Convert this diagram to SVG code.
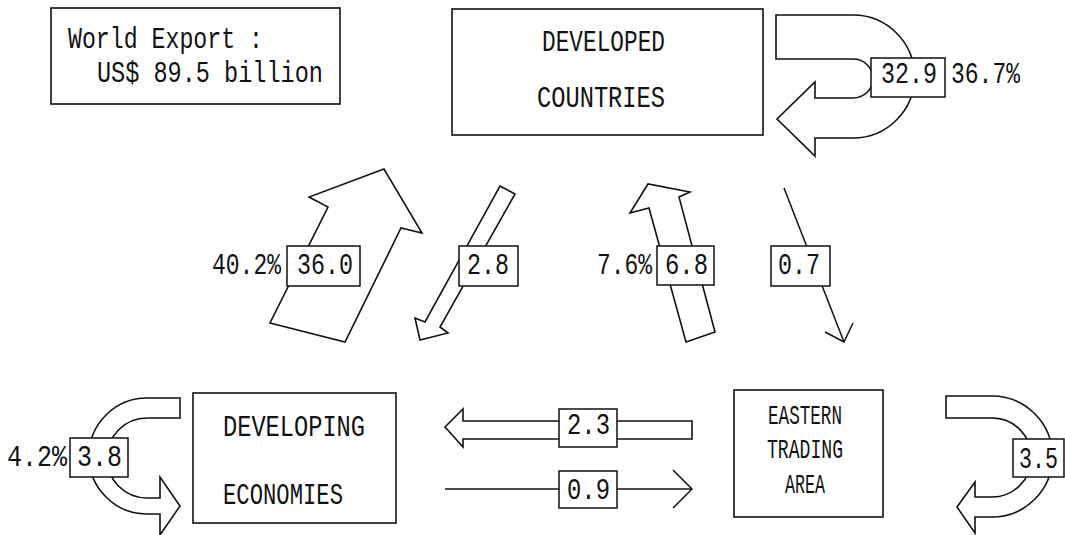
<svg xmlns="http://www.w3.org/2000/svg" width="1065" height="535" viewBox="0 0 1065 535">
  <style>
    .box { fill: #fff; stroke: #111; stroke-width: 1.6; }
    .flow { fill: #fff; stroke: #111; stroke-width: 1.6; stroke-linejoin: miter; }
    .line { fill: none; stroke: #111; stroke-width: 1.5; }
    .tag { fill: #fff; stroke: #111; stroke-width: 1.5; }
    text { font-family: "Liberation Mono", "DejaVu Sans Mono", monospace; font-size: 29px; fill: #111; }
    .small { font-size: 28px; }
    .edge { font-size: 25px; }
  </style>
  <rect width="1065" height="535" fill="#fff"/>

  <!-- total world export -->
  <g id="world-export">
    <rect class="box" x="51" y="8" width="289" height="96"/>
    <text x="68" y="48" textLength="195" lengthAdjust="spacingAndGlyphs">World Export :</text>
    <text x="97" y="82" textLength="226" lengthAdjust="spacingAndGlyphs">US$ 89.5 billion</text>
  </g>

  <!-- connectors: trade flows between regions -->
  <g id="connectors">
    <!-- developed countries to themselves -->
    <path class="flow" d="M776,15 L853,15 A61.5,61.5 0 0 1 853,138 L815,138 L815,156 L777,119 L815,82 L815,98 L853,98 A20,19.5 0 0 0 853,59 L776,59 Z"/>
    <rect class="tag" x="871" y="58" width="74" height="39"/>
    <text x="881" y="83" textLength="56" lengthAdjust="spacingAndGlyphs">32.9</text>
    <text x="951" y="83" textLength="69" lengthAdjust="spacingAndGlyphs">36.7%</text>

    <!-- developing to developed -->
    <polygon class="flow" points="270,323 345,342 401,228 422,233 384,169 309,197 328,207"/>
    <rect class="tag" x="287" y="246" width="73" height="40"/>
    <text x="297" y="274" textLength="56" lengthAdjust="spacingAndGlyphs">36.0</text>
    <text x="212" y="274" textLength="69" lengthAdjust="spacingAndGlyphs">40.2%</text>

    <!-- developed to developing -->
    <polygon class="flow" points="500,186 515,194 440,327 448,333 420,340 415,318 425,322"/>
    <rect class="tag" x="459" y="246" width="59" height="40"/>
    <text x="467" y="274" textLength="42" lengthAdjust="spacingAndGlyphs">2.8</text>

    <!-- eastern trading area to developed -->
    <polygon class="flow" points="686,342 715,332 679,197 690,192 648,184 630,213 649,208"/>
    <rect class="tag" x="657" y="246" width="57" height="39"/>
    <text x="665" y="274" textLength="43" lengthAdjust="spacingAndGlyphs">6.8</text>
    <text x="597" y="274" textLength="55" lengthAdjust="spacingAndGlyphs">7.6%</text>

    <!-- developed to eastern trading area -->
    <line class="line" x1="784" y1="188" x2="844" y2="342"/>
    <polyline class="line" points="825,332 844,342 853,323"/>
    <rect class="tag" x="771" y="246" width="59" height="40"/>
    <text x="778" y="274" textLength="42" lengthAdjust="spacingAndGlyphs">0.7</text>

    <!-- eastern trading area to developing -->
    <polygon class="flow" points="692,421 463,421 463,409 445,427 463,447 463,439 692,439"/>
    <rect class="tag" x="559" y="409" width="58" height="38"/>
    <text x="567" y="434" textLength="43" lengthAdjust="spacingAndGlyphs">2.3</text>

    <!-- developing to eastern trading area -->
    <line class="line" x1="445" y1="489" x2="692" y2="489"/>
    <polyline class="line" points="673,470 692,489 673,508"/>
    <rect class="tag" x="559" y="471" width="58" height="37"/>
    <text x="567" y="499" textLength="43" lengthAdjust="spacingAndGlyphs">0.9</text>

    <!-- developing economies to themselves -->
    <path class="flow" d="M180,398 L147,398 A58,58 0 0 0 147,514 L160,514 L160,535 L180,506 L160,477 L160,498 L147,498 A40,40 0 0 1 147,418 L180,418 Z"/>
    <rect class="tag" x="70" y="438" width="58" height="39"/>
    <text x="77" y="466" textLength="45" lengthAdjust="spacingAndGlyphs">3.8</text>
    <text x="7" y="466" textLength="60" lengthAdjust="spacingAndGlyphs">4.2%</text>

    <!-- eastern trading area to itself -->
    <path class="flow" d="M946,396 L992,396 A60.5,60.5 0 0 1 992,517 L975,517 L975,533 L957,507 L975,482 L975,497 L992,497 A39.5,39.5 0 0 0 992,418 L946,418 Z"/>
    <rect class="tag" x="1013" y="439" width="51" height="38"/>
    <text class="edge" transform="translate(1019,468) scale(1,1.16)" textLength="39" lengthAdjust="spacingAndGlyphs">3.5</text>
  </g>

  <!-- regions -->
  <g id="developed-countries">
    <rect class="box" x="452" y="9" width="311" height="126"/>
    <text x="542" y="51" textLength="123" lengthAdjust="spacingAndGlyphs">DEVELOPED</text>
    <text x="537" y="107" textLength="128" lengthAdjust="spacingAndGlyphs">COUNTRIES</text>
  </g>

  <g id="developing-economies">
    <rect class="box" x="193" y="393" width="203" height="130"/>
    <text x="223" y="436" textLength="142" lengthAdjust="spacingAndGlyphs">DEVELOPING</text>
    <text x="223" y="504" textLength="120" lengthAdjust="spacingAndGlyphs">ECONOMIES</text>
  </g>

  <g id="eastern-trading-area">
    <rect class="box" x="734" y="390" width="149" height="127"/>
    <text class="small" x="768" y="424" textLength="74" lengthAdjust="spacingAndGlyphs">EASTERN</text>
    <text class="small" x="767" y="458" textLength="76" lengthAdjust="spacingAndGlyphs">TRADING</text>
    <text class="small" x="785" y="493" textLength="40" lengthAdjust="spacingAndGlyphs">AREA</text>
  </g>
</svg>
